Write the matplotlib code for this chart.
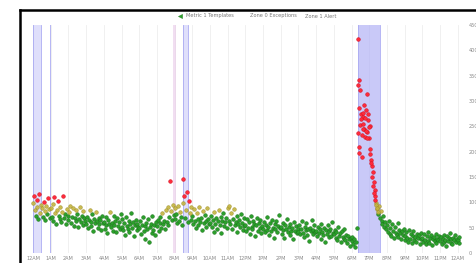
import matplotlib
matplotlib.use("Agg")
import matplotlib.pyplot as plt
from matplotlib.lines import Line2D
import numpy as np

# ---- data (one sample every 3 minutes) ----
step_hours = 0.05
h00 = [98, 112, 85, 74, 104, 90, 68, 116, 79, 95, 88, 72, 101, 83, 66, 92, 77, 108, 86, 70]
h01 = [88, 71, 64, 96, 110, 79, 58, 84, 102, 73, 67, 91, 62, 80, 113, 69, 76, 57, 86, 74]
h02 = [66, 81, 93, 59, 72, 88, 54, 70, 63, 85, 77, 51, 68, 90, 61, 74, 56, 82, 69, 64]
h03 = [58, 72, 49, 66, 84, 61, 53, 77, 44, 68, 59, 81, 63, 50, 70, 57, 65, 46, 74, 60]
h04 = [62, 48, 71, 55, 39, 66, 58, 80, 51, 60, 44, 73, 56, 64, 42, 69, 53, 61, 47, 76]
h05 = [52, 67, 45, 59, 36, 72, 54, 48, 63, 41, 57, 78, 50, 61, 34, 55, 66, 46, 58, 51]
h06 = [49, 63, 38, 56, 71, 44, 53, 28, 60, 47, 67, 22, 51, 58, 40, 74, 45, 55, 35, 62]
h07 = [54, 66, 43, 60, 72, 50, 79, 57, 64, 47, 85, 61, 90, 55, 71, 142, 83, 66, 94, 75]
h08 = [68, 88, 77, 59, 92, 64, 81, 72, 56, 98, 146, 112, 70, 85, 120, 62, 102, 79, 66, 91]
h09 = [73, 58, 86, 64, 49, 79, 67, 55, 90, 61, 70, 46, 83, 59, 75, 63, 52, 88, 68, 57]
h10 = [60, 74, 51, 66, 42, 81, 58, 69, 47, 63, 85, 55, 72, 40, 64, 78, 53, 61, 70, 49]
h11 = [88, 92, 64, 57, 79, 48, 67, 86, 55, 62, 41, 73, 58, 66, 51, 77, 60, 45, 69, 54]
h12 = [56, 43, 68, 50, 61, 37, 74, 52, 47, 63, 58, 33, 55, 70, 44, 60, 49, 66, 39, 53]
h13 = [48, 62, 41, 55, 71, 46, 52, 35, 59, 44, 66, 50, 30, 57, 47, 63, 42, 54, 75, 49]
h14 = [51, 38, 60, 45, 29, 55, 47, 68, 41, 52, 36, 58, 44, 49, 27, 62, 43, 53, 39, 47]
h15 = [42, 56, 37, 48, 64, 40, 31, 52, 45, 59, 35, 47, 24, 50, 43, 66, 38, 46, 55, 41]
h16 = [44, 33, 52, 39, 47, 27, 58, 41, 36, 50, 22, 45, 38, 55, 31, 43, 48, 34, 62, 40]
h17 = [37, 46, 30, 41, 26, 52, 34, 39, 21, 44, 32, 28, 48, 25, 36, 19, 33, 27, 14, 30]
h18 = [24, 31, 18, 27, 12, 22, 50, 422, 342, 210, 322, 275, 190, 268, 245, 228, 282, 314, 238, 262]
h19 = [226, 250, 184, 172, 160, 140, 124, 112, 98, 86, 76, 92, 70, 82, 64, 58, 74, 52, 61, 47]
h20 = [55, 42, 63, 38, 49, 33, 57, 44, 29, 51, 40, 36, 60, 31, 46, 39, 27, 43, 35, 48]
h21 = [34, 25, 41, 30, 22, 46, 28, 37, 19, 33, 44, 26, 31, 21, 38, 29, 35, 18, 40, 27]
h22 = [30, 22, 38, 26, 17, 33, 24, 42, 20, 29, 35, 15, 27, 31, 23, 37, 19, 28, 25, 34]
h23 = [24, 31, 18, 28, 36, 21, 26, 14, 33, 23, 29, 40, 20, 27, 17, 30, 25, 35, 22, 28]
h24 = [26, 19, 32]

# extra readings during the incident window (hour, value)
incident_times = [18.37, 18.39, 18.42, 18.44, 18.47, 18.52, 18.57, 18.62, 18.64, 18.67,
                  18.72, 18.77, 18.82, 18.87, 18.92, 18.97, 19.02, 19.07, 19.12, 19.17,
                  19.22, 19.27, 19.32, 19.37, 19.42, 19.47]
incident_values = [332, 236, 198, 286, 252, 264, 232, 276, 244, 254,
                   292, 266, 240, 226, 274, 248, 206, 196, 178, 150,
                   132, 118, 104, 94, 88, 80]

x_tick_labels = ["12AM", "1AM", "2AM", "3AM", "4AM", "5AM", "6AM", "7AM", "8AM", "9AM",
                 "10AM", "11AM", "12PM", "1PM", "2PM", "3PM", "4PM", "5PM", "6PM", "7PM",
                 "8PM", "9PM", "10PM", "11PM", "12AM"]
y_ticks = [0, 50, 100, 150, 200, 250, 300, 350, 400, 450]

zone_major = [(0.0, 0.45), (8.47, 8.76), (18.36, 19.6)]
zone_minor = [(0.93, 1.03), (7.92, 8.08)]

legend_labels = ["Metric 1 Templates", "Zone 0 Exceptions", "Zone 1 Alert"]

red_threshold = 100
olive_threshold = 78

# ---- figure ----
W, H = 477, 263
fig = plt.figure(figsize=(W / 100, H / 100), dpi=100)
fig.patch.set_facecolor("white")

ax = fig.add_axes([29 / W, 1 - 253 / H, (463 - 29) / W, (253 - 25) / H])
ax.set_xlim(-0.23, 24.3)
ax.set_ylim(0, 450)

# hourly faint grid
for hx in range(0, 25):
    ax.axvline(hx, color="#eeeeee", lw=0.6, zorder=0)

# zone bands
for a, b in zone_major:
    ax.axvspan(a, b, color="#b4b4f6", alpha=0.72 if (b - a) > 1 else 0.42, lw=0, zorder=1)
    ax.axvline(a, color="#aaaaf2", lw=0.6, zorder=1)
    ax.axvline(b, color="#aaaaf2", lw=0.6, zorder=1)
ax.axvspan(*zone_minor[0], color="#8888ee", alpha=0.6, lw=0, zorder=1)
ax.axvspan(*zone_minor[1], color="#e8c8e8", alpha=0.6, lw=0, zorder=1)

# points
all_t = np.concatenate([np.arange(len(h00 + h01 + h02 + h03 + h04 + h05 + h06 + h07 + h08
                                      + h09 + h10 + h11 + h12 + h13 + h14 + h15 + h16 + h17
                                      + h18 + h19 + h20 + h21 + h22 + h23 + h24)) * step_hours,
                        np.array(incident_times)])
all_v = np.array(h00 + h01 + h02 + h03 + h04 + h05 + h06 + h07 + h08 + h09 + h10 + h11
                 + h12 + h13 + h14 + h15 + h16 + h17 + h18 + h19 + h20 + h21 + h22 + h23 + h24
                 + incident_values, dtype=float)

green = all_v <= olive_threshold
olive = (all_v > olive_threshold) & (all_v <= red_threshold)
red = all_v > red_threshold
ms = 7
ax.scatter(all_t[green], all_v[green], s=ms, c="#2aa02a", edgecolors="#1a701a",
           linewidths=0.35, zorder=3)
ax.scatter(all_t[olive], all_v[olive], s=ms, c="#c4b43e", edgecolors="#9a8a20",
           linewidths=0.35, alpha=0.9, zorder=3)
ax.scatter(all_t[red], all_v[red], s=ms, c="#ff2a3a", edgecolors="#d01020",
           linewidths=0.35, zorder=4)

# axes styling
for s in ax.spines.values():
    s.set_visible(False)
ax.set_xticks(range(0, 25))
ax.set_xticklabels(x_tick_labels)
ax.set_yticks(y_ticks)
ax.set_yticklabels([str(v) for v in y_ticks])
ax.yaxis.tick_right()
ax.tick_params(axis="both", length=0, labelsize=3.6, colors="#888888")
ax.tick_params(axis="x", pad=2.5)
ax.tick_params(axis="y", pad=4)

# legend (drawn as text above plot)
ly = 1 - 16 / H
fig.add_artist(Line2D([180 / W], [ly], marker="<", color="#2aa02a", markersize=3,
                      markeredgecolor="#1d7a1d", markeredgewidth=0.3, linestyle="None"))
fig.text(186 / W, ly, legend_labels[0], fontsize=3.6, color="#777777", va="center", ha="left")
fig.text(250 / W, ly, legend_labels[1], fontsize=3.6, color="#777777", va="center", ha="left")
fig.text(305 / W, ly, legend_labels[2], fontsize=3.6, color="#777777", va="center", ha="left")

# screenshot frame
fig.add_artist(Line2D([20 / W, 1.0], [1 - 9.5 / H, 1 - 9.5 / H], color="black", lw=1.8))
fig.add_artist(Line2D([20 / W, 20 / W], [0.0, 1 - 9.5 / H], color="black", lw=1.8))

fig.savefig("out.png", dpi=100, facecolor="white")
